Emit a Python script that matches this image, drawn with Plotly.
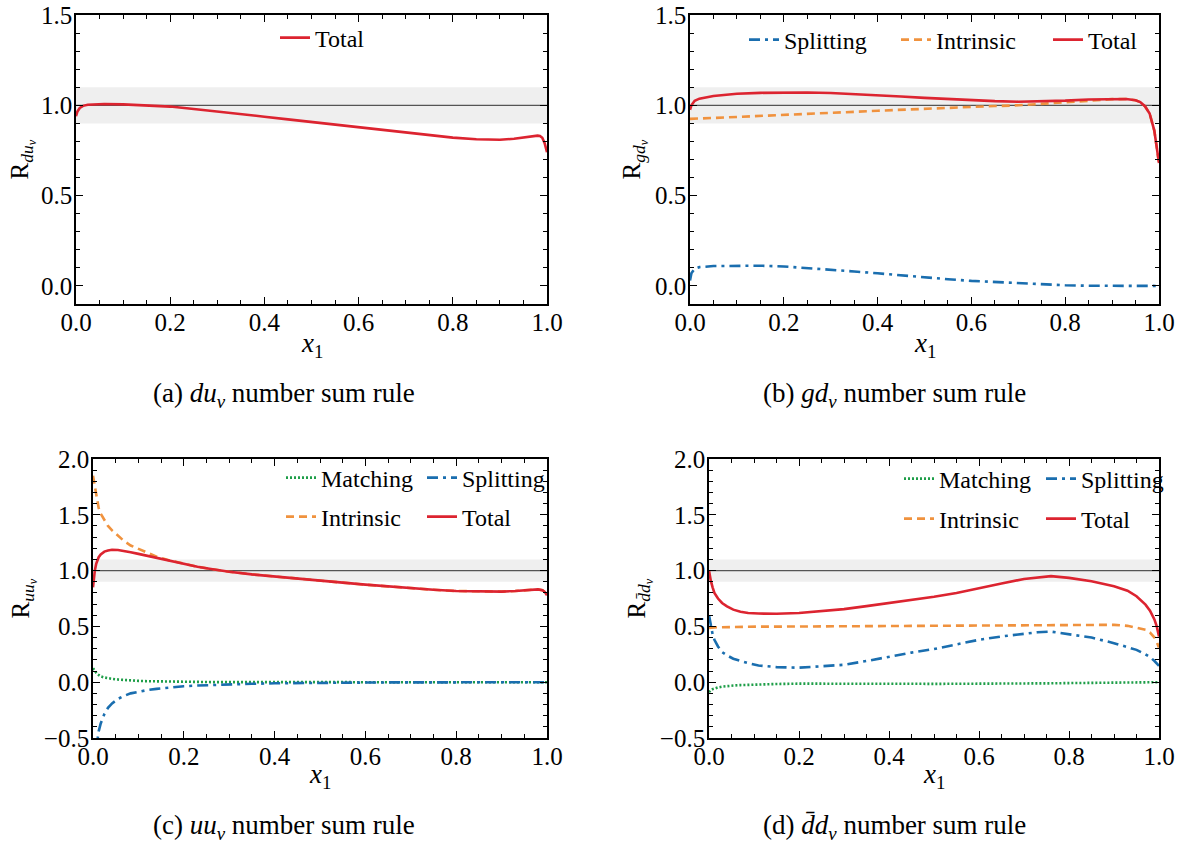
import plotly.graph_objects as go

# ---------------- data ----------------
# (a) du_v
xa = [0, 0.003, 0.008, 0.015, 0.025, 0.04, 0.06, 0.1, 0.15, 0.2, 0.25, 0.3, 0.35, 0.4, 0.45, 0.5, 0.55,
      0.6, 0.65, 0.7, 0.75, 0.8, 0.85, 0.88, 0.9, 0.93, 0.95, 0.97, 0.98, 0.985, 0.99, 0.995, 1.0]
a_total = [0.94, 0.965, 0.985, 0.997, 1.003, 1.006, 1.007, 1.005, 1.0, 0.993, 0.98, 0.967, 0.952, 0.937,
           0.922, 0.907, 0.892, 0.877, 0.862, 0.848, 0.833, 0.821, 0.812, 0.809, 0.809, 0.815, 0.822,
           0.83, 0.832, 0.83, 0.82, 0.79, 0.74]

# (b) gd_v
xb = [0, 0.003, 0.01, 0.02, 0.05, 0.1, 0.15, 0.2, 0.25, 0.3, 0.35, 0.4, 0.45, 0.5, 0.55, 0.6, 0.65, 0.7,
      0.75, 0.8, 0.85, 0.9, 0.93, 0.95, 0.96, 0.97, 0.98, 0.99, 0.995, 1.0]
b_split = [0.03, 0.07, 0.095, 0.104, 0.11, 0.113, 0.112, 0.108, 0.1, 0.09, 0.08, 0.07, 0.058, 0.047,
           0.037, 0.028, 0.021, 0.015, 0.009, 0.004, 0.001, 0.0, 0.0, 0.0, 0.0, 0.0, 0.0, 0.0, 0.0, 0.0]
b_intr = [0.925, 0.925, 0.926, 0.927, 0.93, 0.935, 0.94, 0.946, 0.952, 0.958, 0.964, 0.97, 0.976,
          0.981, 0.986, 0.991, 0.996, 1.0, 1.007, 1.015, 1.025, 1.034, 1.035, 1.028, 1.018, 0.995,
          0.955, 0.86, 0.78, 0.68]
b_total = [0.975, 1.0, 1.025, 1.037, 1.052, 1.064, 1.069, 1.071, 1.071, 1.068, 1.063, 1.057, 1.049,
           1.041, 1.034, 1.028, 1.023, 1.02, 1.021, 1.026, 1.032, 1.036, 1.035, 1.028, 1.018, 0.995,
           0.955, 0.86, 0.78, 0.68]

# (c) uu_v
xc = [0, 0.002, 0.004, 0.007, 0.01, 0.0125, 0.017, 0.025, 0.033, 0.042, 0.055, 0.067, 0.083, 0.1, 0.12,
      0.14, 0.17, 0.2, 0.23, 0.26, 0.3, 0.35, 0.4, 0.45, 0.5, 0.55, 0.6, 0.65, 0.7, 0.75, 0.8, 0.85,
      0.9, 0.93, 0.95, 0.97, 0.98, 0.99, 0.995, 1.0]
c_match = [0.125, 0.11, 0.1, 0.085, 0.072, 0.063, 0.052, 0.042, 0.035, 0.03, 0.024, 0.02, 0.015, 0.012,
           0.009, 0.007, 0.005, 0.003, 0.002, 0.001, 0.001, 0.0, 0.0, 0.0, 0.0, 0.0, 0.0, 0.0, 0.0, 0.0,
           0.0, 0.0, 0.0, 0.0, 0.0, 0.0, 0.0, 0.0, 0.0, 0.0]
c_split = [-1.3, -0.95, -0.75, -0.6, -0.5, -0.44, -0.37, -0.285, -0.23, -0.19, -0.15, -0.125, -0.1,
           -0.085, -0.07, -0.06, -0.047, -0.036, -0.03, -0.025, -0.02, -0.014, -0.01, -0.007, -0.005,
           -0.004, -0.003, -0.002, -0.001, 0.0, 0.0, 0.0, 0.0, 0.0, 0.0, 0.0, 0.0, 0.0, 0.0, 0.0]
c_intr = [1.85, 1.8, 1.74, 1.66, 1.6, 1.56, 1.51, 1.45, 1.4, 1.36, 1.31, 1.27, 1.225, 1.195, 1.16,
          1.125, 1.09, 1.06, 1.035, 1.015, 0.99, 0.966, 0.946, 0.927, 0.91, 0.892, 0.874, 0.857, 0.84,
          0.828, 0.817, 0.812, 0.812, 0.817, 0.822, 0.83, 0.832, 0.825, 0.81, 0.78]
c_total = [0.85, 0.93, 1.0, 1.06, 1.1, 1.12, 1.145, 1.17, 1.18, 1.186, 1.185, 1.178, 1.165, 1.15,
           1.132, 1.115, 1.09, 1.06, 1.035, 1.015, 0.99, 0.966, 0.946, 0.927, 0.91, 0.892, 0.874,
           0.857, 0.84, 0.828, 0.817, 0.812, 0.812, 0.817, 0.822, 0.83, 0.832, 0.825, 0.81, 0.78]

# (d) dbar d_v
xd = [0, 0.002, 0.004, 0.008, 0.012, 0.02, 0.029, 0.04, 0.054, 0.07, 0.087, 0.11, 0.15, 0.2, 0.25,
      0.3, 0.35, 0.4, 0.45, 0.5, 0.55, 0.6, 0.65, 0.7, 0.73, 0.76, 0.8, 0.85, 0.9, 0.93, 0.95, 0.97,
      0.98, 0.99, 0.995, 1.0]
d_match = [-0.09, -0.08, -0.072, -0.062, -0.055, -0.047, -0.04, -0.034, -0.03, -0.026, -0.023, -0.02,
           -0.016, -0.013, -0.012, -0.012, -0.012, -0.013, -0.014, -0.015, -0.015, -0.015, -0.014,
           -0.012, -0.011, -0.01, -0.008, -0.005, -0.003, -0.002, -0.001, 0.0, 0.0, 0.0, 0.0, 0.0]
d_split = [0.6, 0.55, 0.5, 0.43, 0.38, 0.32, 0.27, 0.24, 0.21, 0.19, 0.17, 0.15, 0.135, 0.13, 0.14,
           0.156, 0.19, 0.23, 0.265, 0.297, 0.34, 0.38, 0.41, 0.435, 0.447, 0.453, 0.43, 0.4, 0.35,
           0.315, 0.29, 0.25, 0.225, 0.19, 0.17, 0.147]
d_intr = [0.485, 0.487, 0.488, 0.49, 0.491, 0.492, 0.493, 0.494, 0.495, 0.496, 0.497, 0.498, 0.498,
          0.499, 0.5, 0.5, 0.5, 0.5, 0.501, 0.502, 0.503, 0.504, 0.505, 0.507, 0.509, 0.511, 0.513,
          0.515, 0.514, 0.505, 0.49, 0.47, 0.445, 0.4, 0.36, 0.31]
d_total = [1.0, 0.95, 0.91, 0.85, 0.8, 0.75, 0.71, 0.68, 0.65, 0.632, 0.62, 0.615, 0.613, 0.62, 0.635,
           0.655, 0.682, 0.71, 0.737, 0.765, 0.8, 0.845, 0.885, 0.925, 0.94, 0.95, 0.935, 0.905, 0.86,
           0.82, 0.77, 0.695, 0.64, 0.56, 0.5, 0.41]

captions = ["(a) <i>du</i><sub><i>v</i></sub> number sum rule",
            "(b) <i>gd</i><sub><i>v</i></sub> number sum rule",
            "(c) <i>uu</i><sub><i>v</i></sub> number sum rule",
            "(d) <i>d\u0304d</i><sub><i>v</i></sub> number sum rule"]
ytitles = ["R<sub><i>du<sub>v</sub></i></sub>", "R<sub><i>gd<sub>v</sub></i></sub>",
           "R<sub><i>uu<sub>v</sub></i></sub>", "R<sub><i>d\u0304d<sub>v</sub></i></sub>"]
xtitle = "<i>x</i><sub>1</sub>"

# ---------------- styling ----------------
W, H = 1183, 846
FONT = "Liberation Serif"
RED, ORANGE, BLUE, GREEN = "#dc2430", "#f0923e", "#1a6eaf", "#1e9e48"
LW = 2.6

def px_x(p):
    return p / W

def px_y(p):
    return 1 - p / H

panels = [
    dict(x0=76, x1=547, y0=15, y1=304, yr=[-0.1, 1.5], ytx=22, xty=345),
    dict(x0=690, x1=1159, y0=15, y1=304, yr=[-0.1, 1.5], ytx=634, xty=345),
    dict(x0=93, x1=547, y0=459, y1=738, yr=[-0.5, 2.0], ytx=23, xty=776),
    dict(x0=709, x1=1159, y0=459, y1=738, yr=[-0.5, 2.0], ytx=639, xty=776),
]

fig = go.Figure()

def add(x, y, name, color, dash, k, legend):
    fig.add_trace(go.Scatter(
        x=x, y=y, name=name, mode="lines",
        line=dict(color=color, width=LW, dash=dash),
        xaxis="x" if k == 0 else f"x{k+1}", yaxis="y" if k == 0 else f"y{k+1}",
        legend=legend, showlegend=True))

DASHDOT = "11px,5px,3px,5px"
DASH = "8px,5px"
DOT = "2px,2px"

add(xa, a_total, "Total", RED, "solid", 0, "legend")

add(xb, b_split, "Splitting", BLUE, DASHDOT, 1, "legend2")
add(xb, b_intr, "Intrinsic", ORANGE, DASH, 1, "legend2")
add(xb, b_total, "Total", RED, "solid", 1, "legend2")

add(xc, c_match, "Matching", GREEN, DOT, 2, "legend3")
add(xc, c_split, "Splitting", BLUE, DASHDOT, 2, "legend3")
add(xc, c_intr, "Intrinsic", ORANGE, DASH, 2, "legend4")
add(xc, c_total, "Total", RED, "solid", 2, "legend4")

add(xd, d_match, "Matching", GREEN, DOT, 3, "legend5")
add(xd, d_split, "Splitting", BLUE, DASHDOT, 3, "legend5")
add(xd, d_intr, "Intrinsic", ORANGE, DASH, 3, "legend6")
add(xd, d_total, "Total", RED, "solid", 3, "legend6")

layout = dict(
    width=W, height=H, margin=dict(l=0, r=0, t=0, b=0, autoexpand=False),
    paper_bgcolor="white", plot_bgcolor="white",
    font=dict(family=FONT, size=22, color="black"),
)

shapes = []
annotations = []
for k, p in enumerate(panels):
    xs = "" if k == 0 else str(k + 1)
    common_tick = dict(
        ticks="inside", ticklen=7, tickwidth=1.2, tickcolor="black",
        showline=True, linecolor="black", linewidth=1.6, mirror="allticks",
        showgrid=False, zeroline=False, automargin=False, ticklabeloverflow="allow",
        tickfont=dict(family=FONT, size=25),
    )
    layout["xaxis" + xs] = dict(
        domain=[px_x(p["x0"]), px_x(p["x1"])], range=[0, 1],
        anchor="y" + xs, tick0=0, dtick=0.2, tickformat=".1f", ticklabelstandoff=-5,
        minor=dict(ticks="inside", ticklen=4, dtick=0.05, tickcolor="black", tickwidth=1),
        **common_tick)
    layout["yaxis" + xs] = dict(
        domain=[px_y(p["y1"]), px_y(p["y0"])], range=p["yr"],
        anchor="x" + xs, tick0=0, dtick=0.5, tickformat=".1f", ticklabelstandoff=-3,
        minor=dict(ticks="inside", ticklen=4, dtick=0.1, tickcolor="black", tickwidth=1),
        **common_tick)
    shapes.append(dict(type="rect", xref=f"x{xs} domain", yref=f"y{xs}", x0=0, x1=1, y0=0.9, y1=1.1,
                       fillcolor="#efefef", line=dict(width=0), layer="below"))
    shapes.append(dict(type="line", xref=f"x{xs} domain", yref=f"y{xs}", x0=0, x1=1, y0=1, y1=1,
                       line=dict(color="#555555", width=1.2), layer="below"))
    cx = 284 if k in (0, 2) else 894
    cy = 395 if k < 2 else 827
    annotations.append(dict(text=captions[k], xref="paper", yref="paper",
                            x=px_x(cx), y=px_y(cy),
                            xanchor="center", yanchor="middle", showarrow=False,
                            font=dict(family=FONT, size=27)))
    # x-axis title
    annotations.append(dict(text=xtitle, xref="paper", yref="paper",
                            x=px_x((p["x0"] + p["x1"]) / 2), y=px_y(p["xty"]),
                            xanchor="center", yanchor="middle", showarrow=False,
                            font=dict(family=FONT, size=27)))
    # y-axis title
    annotations.append(dict(text=ytitles[k], xref="paper", yref="paper", textangle=-90,
                            x=px_x(p["ytx"]), y=px_y((p["y0"] + p["y1"]) / 2),
                            xanchor="center", yanchor="middle", showarrow=False,
                            font=dict(family=FONT, size=25)))

layout["shapes"] = shapes
layout["annotations"] = annotations

leg_common = dict(orientation="h", bgcolor="rgba(0,0,0,0)", font=dict(family=FONT, size=24),
                  xanchor="left", yanchor="middle", itemwidth=30, tracegroupgap=0)
layout["legend"] = dict(x=px_x(275), y=px_y(38), **leg_common)
layout["legend2"] = dict(x=px_x(744), y=px_y(40), entrywidth=107, **leg_common)
layout["legend3"] = dict(x=px_x(281), y=px_y(478), entrywidth=96, **leg_common)
layout["legend4"] = dict(x=px_x(281), y=px_y(517), entrywidth=96, **leg_common)
layout["legend5"] = dict(x=px_x(899), y=px_y(479), entrywidth=97, **leg_common)
layout["legend6"] = dict(x=px_x(899), y=px_y(519), entrywidth=97, **leg_common)

fig.update_layout(**layout)
fig.write_html("out.html", config={"displayModeBar": False},
               post_script="document.body.style.margin='0';")
